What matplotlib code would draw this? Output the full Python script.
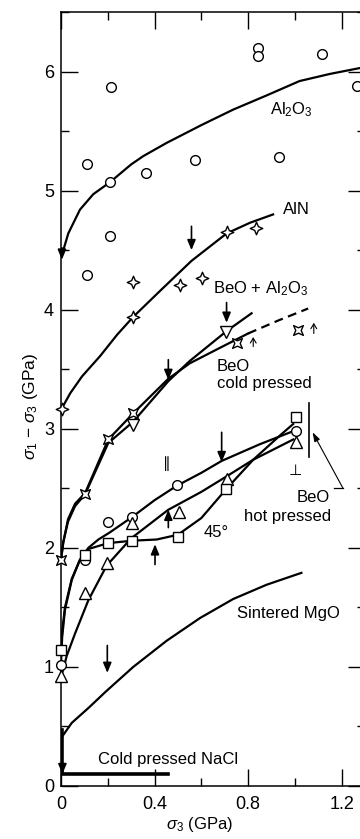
import matplotlib
matplotlib.use('Agg')
import matplotlib.pyplot as plt
from matplotlib.path import Path

plt.rcParams['font.family'] = ['Liberation Sans', 'DejaVu Sans']
plt.rcParams['mathtext.fontset'] = 'custom'
plt.rcParams['mathtext.rm'] = 'Liberation Sans'
plt.rcParams['mathtext.it'] = 'Liberation Sans:italic'
plt.rcParams['font.size'] = 12

# Al2O3
al2o3_cx = [0, 0.01, 0.031, 0.081, 0.138, 0.209, 0.30, 0.352, 0.451, 0.60, 0.736, 0.88, 1.02, 1.15, 1.28]
al2o3_cy = [4.45, 4.50, 4.64, 4.84, 4.97, 5.07, 5.22, 5.29, 5.40, 5.55, 5.68, 5.80, 5.92, 5.98, 6.03]
al2o3_px = [0.214, 0.112, 0.209, 0.362, 0.573, 0.932, 0.843, 0.843, 1.114, 1.264, 0.209, 0.110]
al2o3_py = [5.87, 5.22, 5.07, 5.15, 5.26, 5.28, 6.20, 6.13, 6.15, 5.88, 4.62, 4.29]

# AlN
aln_cx = [0.003, 0.04, 0.09, 0.167, 0.24, 0.309, 0.43, 0.558, 0.708, 0.808, 0.907]
aln_cy = [3.17, 3.30, 3.44, 3.61, 3.79, 3.94, 4.17, 4.41, 4.64, 4.73, 4.80]
aln_px = [0.003, 0.309, 0.309, 0.509, 0.601, 0.712, 0.836]
aln_py = [3.17, 3.94, 4.23, 4.21, 4.27, 4.65, 4.69]

# BeO + Al2O3
beal_cx = [0, 0.01, 0.03, 0.06, 0.103, 0.202, 0.309, 0.459, 0.551, 0.708, 0.815]
beal_cy = [1.90, 2.05, 2.22, 2.35, 2.45, 2.88, 3.06, 3.40, 3.57, 3.82, 3.97]
beal_px = [0.309, 0.705]
beal_py = [3.03, 3.81]

# BeO cold pressed
bec_cx = [0, 0.01, 0.03, 0.06, 0.103, 0.202, 0.309, 0.459, 0.551, 0.68, 0.80]
bec_cy = [1.90, 2.05, 2.24, 2.37, 2.46, 2.91, 3.13, 3.42, 3.55, 3.68, 3.80]
bec_dx = [0.80, 0.93, 1.057]
bec_dy = [3.80, 3.91, 4.01]
bec_px = [0, 0.103, 0.202, 0.309, 0.751, 1.014]
bec_py = [1.90, 2.45, 2.91, 3.13, 3.72, 3.83]

# BeO hot pressed
hpar_cx = [0, 0.005, 0.017, 0.046, 0.081, 0.117, 0.16, 0.209, 0.305, 0.40, 0.494, 0.60, 0.687, 0.85, 0.993]
hpar_cy = [1.02, 1.25, 1.48, 1.73, 1.90, 2.00, 2.07, 2.13, 2.26, 2.40, 2.52, 2.63, 2.73, 2.87, 2.98]
hpar_px = [0, 0.103, 0.202, 0.305, 0.497, 1.007]
hpar_py = [1.02, 1.90, 2.22, 2.26, 2.53, 2.98]

hperp_cx = [0, 0.01, 0.024, 0.06, 0.117, 0.195, 0.30, 0.459, 0.60, 0.708, 0.822, 0.993]
hperp_cy = [0.92, 0.98, 1.09, 1.28, 1.56, 1.85, 2.08, 2.32, 2.47, 2.60, 2.74, 2.91]
hperp_px = [0, 0.103, 0.195, 0.305, 0.504, 0.708, 1.007]
hperp_py = [0.92, 1.62, 1.87, 2.21, 2.30, 2.58, 2.89]

h45_cx = [0, 0.005, 0.017, 0.046, 0.081, 0.117, 0.202, 0.305, 0.409, 0.50, 0.60, 0.705, 0.822, 0.94, 0.993]
h45_cy = [1.14, 1.30, 1.50, 1.74, 1.90, 1.99, 2.04, 2.06, 2.07, 2.11, 2.25, 2.49, 2.74, 2.95, 3.04]
h45_px = [0, 0.103, 0.202, 0.305, 0.501, 0.705, 1.007]
h45_py = [1.14, 1.94, 2.04, 2.06, 2.09, 2.49, 3.10]

# Sintered MgO
mgo_cx = [0.003, 0.046, 0.12, 0.19, 0.309, 0.452, 0.594, 0.736, 0.879, 1.028]
mgo_cy = [0.41, 0.53, 0.66, 0.79, 1.00, 1.22, 1.41, 1.57, 1.69, 1.79]

# Cold pressed NaCl
nacl_x = [0.004, 0.004, 0.457]
nacl_y = [0.47, 0.10, 0.10]

# arrows (x, tail y, tip y)
arrows = [(0.558, 4.70, 4.50), (0.708, 4.06, 3.89), (0.459, 3.58, 3.41),
          (0.687, 2.97, 2.72), (0.459, 2.17, 2.32), (0.402, 1.86, 2.03),
          (0.198, 1.18, 0.95), (0.004, 4.52, 4.42), (0.006, 0.20, 0.10)]
small_arrows = [(0.822, 3.69, 3.77), (1.081, 3.80, 3.89)]

# marker shapes: 4-point star (AlN) and cross-square (cold pressed BeO)
star4 = Path([(0, 1), (0.3, 0.3), (1, 0), (0.3, -0.3), (0, -1),
              (-0.3, -0.3), (-1, 0), (-0.3, 0.3), (0, 1)], closed=True)
xsq = Path([(0.9, 0.9), (0, 0.5), (-0.9, 0.9), (-0.5, 0), (-0.9, -0.9),
            (0, -0.5), (0.9, -0.9), (0.5, 0), (0.9, 0.9)], closed=True)

fig = plt.figure(figsize=(3.6, 8.39), dpi=100)
ax = fig.add_axes([61 / 360, 53 / 839, 304 / 360, 774 / 839])

lw = 1.6
mk = dict(mfc='white', mec='k', mew=1.0, ls='none', clip_on=False, zorder=4)

ax.plot(al2o3_cx, al2o3_cy, c='k', lw=lw)
ax.plot(al2o3_px, al2o3_py, marker='o', ms=7, **mk)

ax.plot(aln_cx, aln_cy, c='k', lw=lw)
ax.plot(aln_px, aln_py, marker=star4, ms=9, **mk)

ax.plot(beal_cx, beal_cy, c='k', lw=lw)
ax.plot(beal_px, beal_py, marker='v', ms=8, **mk)

ax.plot(bec_cx, bec_cy, c='k', lw=lw)
ax.plot(bec_dx, bec_dy, c='k', lw=lw, ls=(0, (4, 2.5)))
ax.plot(bec_px, bec_py, marker=xsq, ms=7, **mk)

ax.plot(hpar_cx, hpar_cy, c='k', lw=lw)
ax.plot(hpar_px, hpar_py, marker='o', ms=7, **mk)
ax.plot(hperp_cx, hperp_cy, c='k', lw=lw)
ax.plot(hperp_px, hperp_py, marker='^', ms=8, **mk)
ax.plot(h45_cx, h45_cy, c='k', lw=lw)
ax.plot(h45_px, h45_py, marker='s', ms=7, **mk)

ax.plot(mgo_cx, mgo_cy, c='k', lw=lw)
ax.plot(nacl_x, nacl_y, c='k', lw=2.6, solid_joinstyle='miter')

for x, y0, y1 in arrows:
    ax.annotate('', xy=(x, y1), xytext=(x, y0),
                arrowprops=dict(arrowstyle='-|>,head_length=0.6,head_width=0.25',
                                color='k', lw=1.2, mutation_scale=10,
                                shrinkA=0, shrinkB=0))
for x, y0, y1 in small_arrows:
    ax.annotate('', xy=(x, y1), xytext=(x, y0),
                arrowprops=dict(arrowstyle='->,head_length=0.5,head_width=0.3',
                                color='k', lw=0.8, mutation_scale=7,
                                shrinkA=0, shrinkB=0))

# bracket and leader for hot pressed BeO
ax.plot([1.061, 1.061], [2.76, 3.22], c='k', lw=1.2)
ax.plot([1.166, 1.206], [2.50, 2.50], c='k', lw=0.9)
ax.annotate('', xy=(1.076, 2.97), xytext=(1.206, 2.50),
            arrowprops=dict(arrowstyle='-|>,head_length=0.6,head_width=0.2',
                            color='k', lw=0.8, mutation_scale=9,
                            shrinkA=0, shrinkB=0))

ax.text(0.893, 5.68, 'Al$_2$O$_3$', ha='left', va='center')
ax.text(0.949, 4.84, 'AlN', ha='left', va='center')
ax.text(0.650, 4.18, 'BeO + Al$_2$O$_3$', ha='left', va='center')
ax.text(0.667, 3.52, 'BeO', ha='left', va='center')
ax.text(0.667, 3.38, 'cold pressed', ha='left', va='center')
ax.text(0.453, 2.71, '\u2225', ha='center', va='center', family='DejaVu Sans', fontsize=11)
ax.text(1.0, 2.65, '\u22a5', ha='center', va='center', family='DejaVu Sans', fontsize=11)
ax.text(1.150, 2.42, 'BeO', ha='right', va='center')
ax.text(0.968, 2.26, 'hot pressed', ha='center', va='center')
ax.text(0.662, 2.13, '45\u00b0', ha='center', va='center')
ax.text(0.752, 1.45, 'Sintered MgO', ha='left', va='center')
ax.text(0.158, 0.22, 'Cold pressed NaCl', ha='left', va='center')

ax.set_xlim(0, 1.3)
ax.set_ylim(0, 6.5)
ax.set_xticks([0, 0.4, 0.8, 1.2])
ax.set_xticklabels(['0', '0.4', '0.8', '1.2'])
ax.set_xticks([0.2, 0.6, 1.0], minor=True)
ax.set_yticks([0, 1, 2, 3, 4, 5, 6])
ax.set_yticks([0.5, 1.5, 2.5, 3.5, 4.5, 5.5, 6.5], minor=True)
ax.tick_params(which='both', direction='in', top=True, right=True, width=1.0, labelsize=13)
ax.tick_params(which='major', length=12)
ax.tick_params(which='minor', length=6)
ax.tick_params(axis='x', pad=7)
ax.tick_params(axis='y', pad=5)
for s in ax.spines.values():
    s.set_linewidth(1.1)

ax.set_xlabel(r'$\sigma_3$ (GPa)', fontsize=12)
ax.xaxis.set_label_coords(0.457, -0.038)
ax.set_ylabel(r'$\sigma_1$ $-$ $\sigma_3$ (GPa)', fontsize=12.5)
ax.yaxis.set_label_coords(-0.068, 0.49)

fig.savefig('out.png', dpi=100)
